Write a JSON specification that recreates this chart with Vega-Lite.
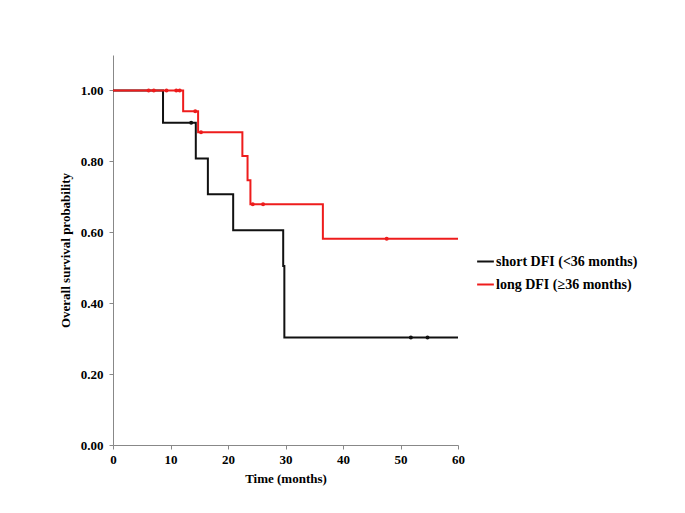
{
  "$schema": "https://vega.github.io/schema/vega-lite/v6.json",
  "autosize": "none",
  "width": 345,
  "height": 390,
  "padding": {"left": 113, "top": 55, "right": 227, "bottom": 68},
  "background": "white",
  "config": {
    "view": {"stroke": null},
    "font": "Liberation Serif",
    "axis": {
      "grid": false,
      "domainColor": "#888888",
      "tickColor": "#888888",
      "domainWidth": 1,
      "tickSize": 4,
      "labelFont": "Liberation Serif",
      "labelFontWeight": "bold",
      "labelFontSize": 13,
      "labelColor": "black",
      "titleFont": "Liberation Serif",
      "titleFontWeight": "bold",
      "titleFontSize": 13,
      "titleColor": "black"
    }
  },
  "datasets": {
    "steps": [
      {"group": "short DFI (<36 months)", "time": 0, "surv": 1.0},
      {"group": "short DFI (<36 months)", "time": 8.7, "surv": 0.909},
      {"group": "short DFI (<36 months)", "time": 14.4, "surv": 0.808},
      {"group": "short DFI (<36 months)", "time": 16.5, "surv": 0.707},
      {"group": "short DFI (<36 months)", "time": 20.9, "surv": 0.606},
      {"group": "short DFI (<36 months)", "time": 29.6, "surv": 0.505},
      {"group": "short DFI (<36 months)", "time": 29.8, "surv": 0.303},
      {"group": "short DFI (<36 months)", "time": 60, "surv": 0.303},
      {"group": "long DFI (≥36 months)", "time": 0, "surv": 1.0},
      {"group": "long DFI (≥36 months)", "time": 12.2, "surv": 0.941},
      {"group": "long DFI (≥36 months)", "time": 14.8, "surv": 0.882},
      {"group": "long DFI (≥36 months)", "time": 22.5, "surv": 0.815},
      {"group": "long DFI (≥36 months)", "time": 23.4, "surv": 0.747},
      {"group": "long DFI (≥36 months)", "time": 23.9, "surv": 0.679},
      {"group": "long DFI (≥36 months)", "time": 36.5, "surv": 0.582},
      {"group": "long DFI (≥36 months)", "time": 60, "surv": 0.582}
    ],
    "censor": [
      {"group": "short DFI (<36 months)", "time": 13.6, "surv": 0.909},
      {"group": "short DFI (<36 months)", "time": 51.8, "surv": 0.303},
      {"group": "short DFI (<36 months)", "time": 54.7, "surv": 0.303},
      {"group": "long DFI (≥36 months)", "time": 6.2, "surv": 1.0},
      {"group": "long DFI (≥36 months)", "time": 7.1, "surv": 1.0},
      {"group": "long DFI (≥36 months)", "time": 9.3, "surv": 1.0},
      {"group": "long DFI (≥36 months)", "time": 11.0, "surv": 1.0},
      {"group": "long DFI (≥36 months)", "time": 11.6, "surv": 1.0},
      {"group": "long DFI (≥36 months)", "time": 14.3, "surv": 0.941},
      {"group": "long DFI (≥36 months)", "time": 15.3, "surv": 0.882},
      {"group": "long DFI (≥36 months)", "time": 24.3, "surv": 0.679},
      {"group": "long DFI (≥36 months)", "time": 26.1, "surv": 0.679},
      {"group": "long DFI (≥36 months)", "time": 47.6, "surv": 0.582}
    ]
  },
  "encoding": {
    "x": {
      "field": "time", "type": "quantitative",
      "scale": {"domain": [0, 60], "nice": false, "zero": true},
      "axis": {"values": [0, 10, 20, 30, 40, 50, 60], "title": "Time (months)", "labelPadding": 4, "titlePadding": 6, "labelFlush": false}
    },
    "y": {
      "field": "surv", "type": "quantitative",
      "scale": {"domain": [0, 1.1], "nice": false},
      "axis": {"values": [0, 0.2, 0.4, 0.6, 0.8, 1.0], "format": ".2f", "title": "Overall survival probability", "labelPadding": 6, "titlePadding": 8}
    },
    "color": {
      "field": "group", "type": "nominal",
      "scale": {"domain": ["short DFI (<36 months)", "long DFI (≥36 months)"], "range": ["#111111", "#ee1c1c"]},
      "legend": {
        "title": null,
        "orient": "none",
        "legendX": 363,
        "legendY": 197,
        "symbolType": "stroke",
        "symbolSize": 280,
        "symbolStrokeWidth": 2,
        "labelFont": "Liberation Serif",
        "labelFontWeight": "bold",
        "labelFontSize": 14,
        "labelColor": "black",
        "rowPadding": 6,
        "labelOffset": 1
      }
    }
  },
  "layer": [
    {
      "data": {"name": "steps"},
      "mark": {"type": "line", "interpolate": "step-after", "strokeWidth": 2}
    },
    {
      "data": {"name": "censor"},
      "mark": {"type": "point", "filled": true, "size": 16, "opacity": 1}
    }
  ]
}
